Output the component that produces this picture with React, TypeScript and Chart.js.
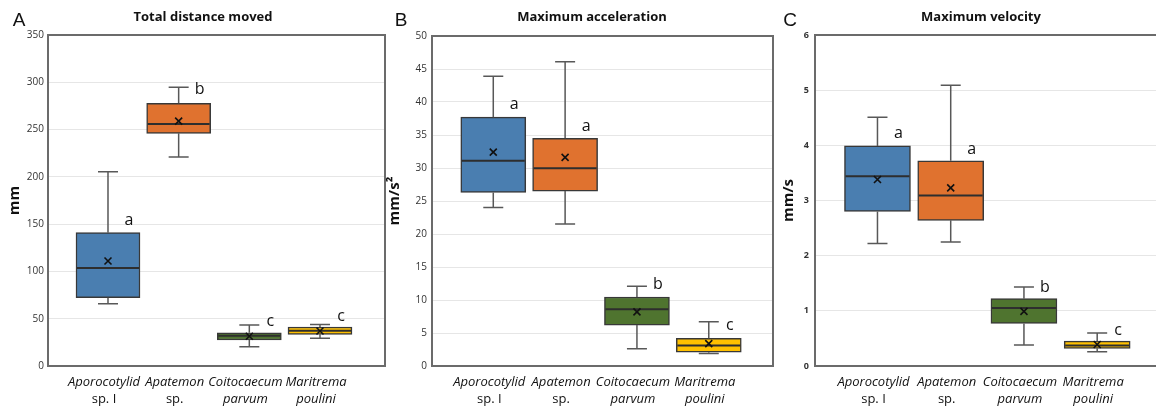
import React, { useEffect, useRef } from 'react';
import { Chart, registerables } from 'chart.js';

Chart.register(...registerables);

// ---------- DATA ----------
const genusLines = ['Aporocotylid', 'Apatemon', 'Coitocaecum', 'Maritrema'];
const speciesLines = ['sp. I', 'sp.', 'parvum', 'poulini'];
const speciesItalic = [false, false, true, true];
const boxColors = ['#4a7eb0', '#e0722f', '#4f742f', '#ffc000'];

// A: Total distance moved (mm)
const distanceLow = [65.9, 221, 20.4, 29.3];
const distanceQ1 = [72.2, 246, 27.5, 33.5];
const distanceMedian = [103.6, 255.9, 32.0, 37.3];
const distanceQ3 = [141, 277.8, 35.2, 41.2];
const distanceHigh = [205.5, 294.7, 43.4, 43.8];
const distanceMean = [111, 259, 31.5, 37];
const distanceLetters = ['a', 'b', 'c', 'c'];
const distanceLetterAt = [154, 292.6, 48, 53];
const distanceTicks = [0, 50, 100, 150, 200, 250, 300, 350];

// B: Maximum acceleration (mm/s²)
const accelLow = [24.0, 21.5, 2.6, 1.9];
const accelQ1 = [26.3, 26.5, 6.2, 2.1];
const accelMedian = [31.1, 29.95, 8.6, 3.1];
const accelQ3 = [37.7, 34.5, 10.45, 4.2];
const accelHigh = [43.9, 46.1, 12.1, 6.7];
const accelMean = [32.4, 31.6, 8.2, 3.4];
const accelLetters = ['a', 'a', 'b', 'c'];
const accelLetterAt = [39.7, 36.4, 12.5, 6.2];
const accelTicks = [0, 5, 10, 15, 20, 25, 30, 35, 40, 45, 50];

// C: Maximum velocity (mm/s)
const velLow = [2.22, 2.25, 0.38, 0.26];
const velQ1 = [2.8, 2.64, 0.77, 0.32];
const velMedian = [3.44, 3.09, 1.05, 0.37];
const velQ3 = [3.99, 3.72, 1.22, 0.45];
const velHigh = [4.51, 5.09, 1.43, 0.6];
const velMean = [3.38, 3.23, 0.99, 0.39];
const velLetters = ['a', 'a', 'b', 'c'];
const velLetterAt = [4.23, 3.94, 1.43, 0.645];
const velTicks = [0, 1, 2, 3, 4, 5, 6];

const FONT = "'Open Sans', 'Noto Sans', sans-serif";

type Panel = {
  letter: string; title: string; unit: string;
  low: number[]; q1: number[]; median: number[]; q3: number[]; high: number[]; mean: number[];
  letters: string[]; letterAt: number[]; ticks: number[];
  left: number; width: number; plotLeft: number; padRight: number; top: number; bottom: number;
  xMin: number; xMax: number; barWidth: number; tickPad: number; unitPad: number;
  titleX: number; letterX: number; tickFont: any;
};

const panels: Panel[] = [
  {
    letter: 'A', title: 'Total distance moved', unit: 'mm',
    low: distanceLow, q1: distanceQ1, median: distanceMedian, q3: distanceQ3, high: distanceHigh, mean: distanceMean,
    letters: distanceLetters, letterAt: distanceLetterAt, ticks: distanceTicks,
    left: 0, width: 386, plotLeft: 48, padRight: 1, top: 35, bottom: 366,
    xMin: -0.849, xMax: 3.92, barWidth: 64, tickPad: 4, unitPad: 7,
    titleX: 203, letterX: 19, tickFont: { size: 10, family: FONT },
  },
  {
    letter: 'B', title: 'Maximum acceleration', unit: 'mm/s²',
    low: accelLow, q1: accelQ1, median: accelMedian, q3: accelQ3, high: accelHigh, mean: accelMean,
    letters: accelLetters, letterAt: accelLetterAt, ticks: accelTicks,
    left: 386, width: 388, plotLeft: 46, padRight: 1, top: 36, bottom: 366,
    xMin: -0.853, xMax: 3.894, barWidth: 65, tickPad: 5, unitPad: 1,
    titleX: 206, letterX: 15, tickFont: { size: 10, family: FONT },
  },
  {
    letter: 'C', title: 'Maximum velocity', unit: 'mm/s',
    low: velLow, q1: velQ1, median: velMedian, q3: velQ3, high: velHigh, mean: velMean,
    letters: velLetters, letterAt: velLetterAt, ticks: velTicks,
    left: 775, width: 392, plotLeft: 40, padRight: 5, top: 35, bottom: 366,
    xMin: -0.853, xMax: 3.885, barWidth: 66, tickPad: 6, unitPad: 6,
    titleX: 206, letterX: 15, tickFont: { size: 9, weight: 'bold', family: FONT },
  },
];

function makeChart(canvas: HTMLCanvasElement, p: Panel) {
  const extras = {
    id: 'boxExtras' + p.letter,
    afterDatasetsDraw(chart: any) {
      const { ctx } = chart;
      const x = chart.scales.x;
      const y = chart.scales.y;
      ctx.save();
      p.q1.forEach((_, i) => {
        const cx = x.getPixelForValue(i);
        const half = p.barWidth / 2;
        // whiskers
        ctx.strokeStyle = '#585858';
        ctx.lineWidth = 1.5;
        const cap = 10;
        const yHigh = y.getPixelForValue(p.high[i]);
        const yLow = y.getPixelForValue(p.low[i]);
        const yQ3 = y.getPixelForValue(p.q3[i]);
        const yQ1 = y.getPixelForValue(p.q1[i]);
        ctx.beginPath();
        ctx.moveTo(cx, yQ3); ctx.lineTo(cx, yHigh);
        ctx.moveTo(cx - cap, yHigh); ctx.lineTo(cx + cap, yHigh);
        ctx.moveTo(cx, yQ1); ctx.lineTo(cx, yLow);
        ctx.moveTo(cx - cap, yLow); ctx.lineTo(cx + cap, yLow);
        ctx.stroke();
        // median
        const ym = y.getPixelForValue(p.median[i]);
        ctx.strokeStyle = '#2e2e2e';
        ctx.lineWidth = 2;
        ctx.beginPath();
        ctx.moveTo(cx - half + 1, ym); ctx.lineTo(cx + half - 1, ym);
        ctx.stroke();
        // mean marker
        const yMean = y.getPixelForValue(p.mean[i]);
        const s = 3.5;
        ctx.strokeStyle = '#111';
        ctx.lineWidth = 1.6;
        ctx.beginPath();
        ctx.moveTo(cx - s, yMean - s); ctx.lineTo(cx + s, yMean + s);
        ctx.moveTo(cx - s, yMean + s); ctx.lineTo(cx + s, yMean - s);
        ctx.stroke();
        // significance letter
        ctx.fillStyle = '#111';
        ctx.font = `16px ${FONT}`;
        ctx.textAlign = 'center';
        ctx.textBaseline = 'alphabetic';
        ctx.fillText(p.letters[i], cx + 21, y.getPixelForValue(p.letterAt[i]) + 5);
      });
      ctx.restore();
    },
    afterDraw(chart: any) {
      const { ctx, chartArea } = chart;
      const x = chart.scales.x;
      ctx.save();
      // frame
      ctx.strokeStyle = '#6b6b6b';
      ctx.lineWidth = 2;
      ctx.strokeRect(chartArea.left, chartArea.top, chartArea.right - chartArea.left, chartArea.bottom - chartArea.top);
      // title
      ctx.fillStyle = '#111';
      ctx.textAlign = 'center';
      ctx.textBaseline = 'middle';
      ctx.font = `bold 13px ${FONT}`;
      ctx.fillText(p.title, p.titleX, 17);
      // panel letter
      ctx.font = `19px 'Liberation Sans', Arial, sans-serif`;
      ctx.fillText(p.letter, p.letterX, 21);
      // category labels
      genusLines.forEach((g, i) => {
        const cx = x.getPixelForValue(i) - 4;
        ctx.font = `italic 13px ${FONT}`;
        ctx.fillText(g, cx, 382);
        ctx.font = `${speciesItalic[i] ? 'italic ' : ''}13px ${FONT}`;
        ctx.fillText(speciesLines[i], cx, 399);
      });
      ctx.restore();
    },
  };

  return new Chart(canvas, {
    type: 'bar',
    data: {
      datasets: [
        {
          data: p.q1.map((q, i) => ({ x: i, y: [q, p.q3[i]] })) as any,
          backgroundColor: boxColors,
          borderColor: '#383838',
          borderWidth: 1.5,
          borderSkipped: false,
          barThickness: p.barWidth,
        },
      ],
    },
    options: {
      responsive: false,
      animation: false,
      layout: { padding: { top: p.top, bottom: 408 - p.bottom, left: 0, right: p.padRight } },
      plugins: { legend: { display: false }, tooltip: { enabled: false } },
      scales: {
        x: { type: 'linear', display: false, offset: false, min: p.xMin, max: p.xMax },
        y: {
          type: 'linear',
          min: p.ticks[0],
          max: p.ticks[p.ticks.length - 1],
          afterBuildTicks: (s: any) => { s.ticks = p.ticks.map((v) => ({ value: v })); },
          afterFit: (s: any) => { s.width = p.plotLeft; },
          grid: { color: '#e6e6e6', drawTicks: false, lineWidth: 1 },
          border: { display: false },
          ticks: { padding: p.tickPad, font: p.tickFont, color: '#333' },
          title: {
            display: true, text: p.unit, color: '#111',
            font: { size: 15, weight: 'bold', family: FONT, lineHeight: 1 },
            padding: { top: p.unitPad, bottom: 0 },
          },
        },
      },
    } as any,
    plugins: [extras],
  });
}

function PanelChart({ p }: { p: Panel }) {
  const ref = useRef<HTMLCanvasElement | null>(null);
  useEffect(() => {
    if (!ref.current) return;
    const c = makeChart(ref.current, p);
    return () => c.destroy();
  }, [p]);
  return (
    <canvas
      ref={ref}
      width={p.width}
      height={408}
      style={{ position: 'absolute', left: p.left, top: 0, width: p.width, height: 408 }}
    />
  );
}

export default function App() {
  return (
    <div style={{ position: 'absolute', left: 0, top: 0, width: 1156, height: 408, overflow: 'hidden', background: '#fff' }}>
      {panels.map((p) => (
        <PanelChart key={p.letter} p={p} />
      ))}
    </div>
  );
}
